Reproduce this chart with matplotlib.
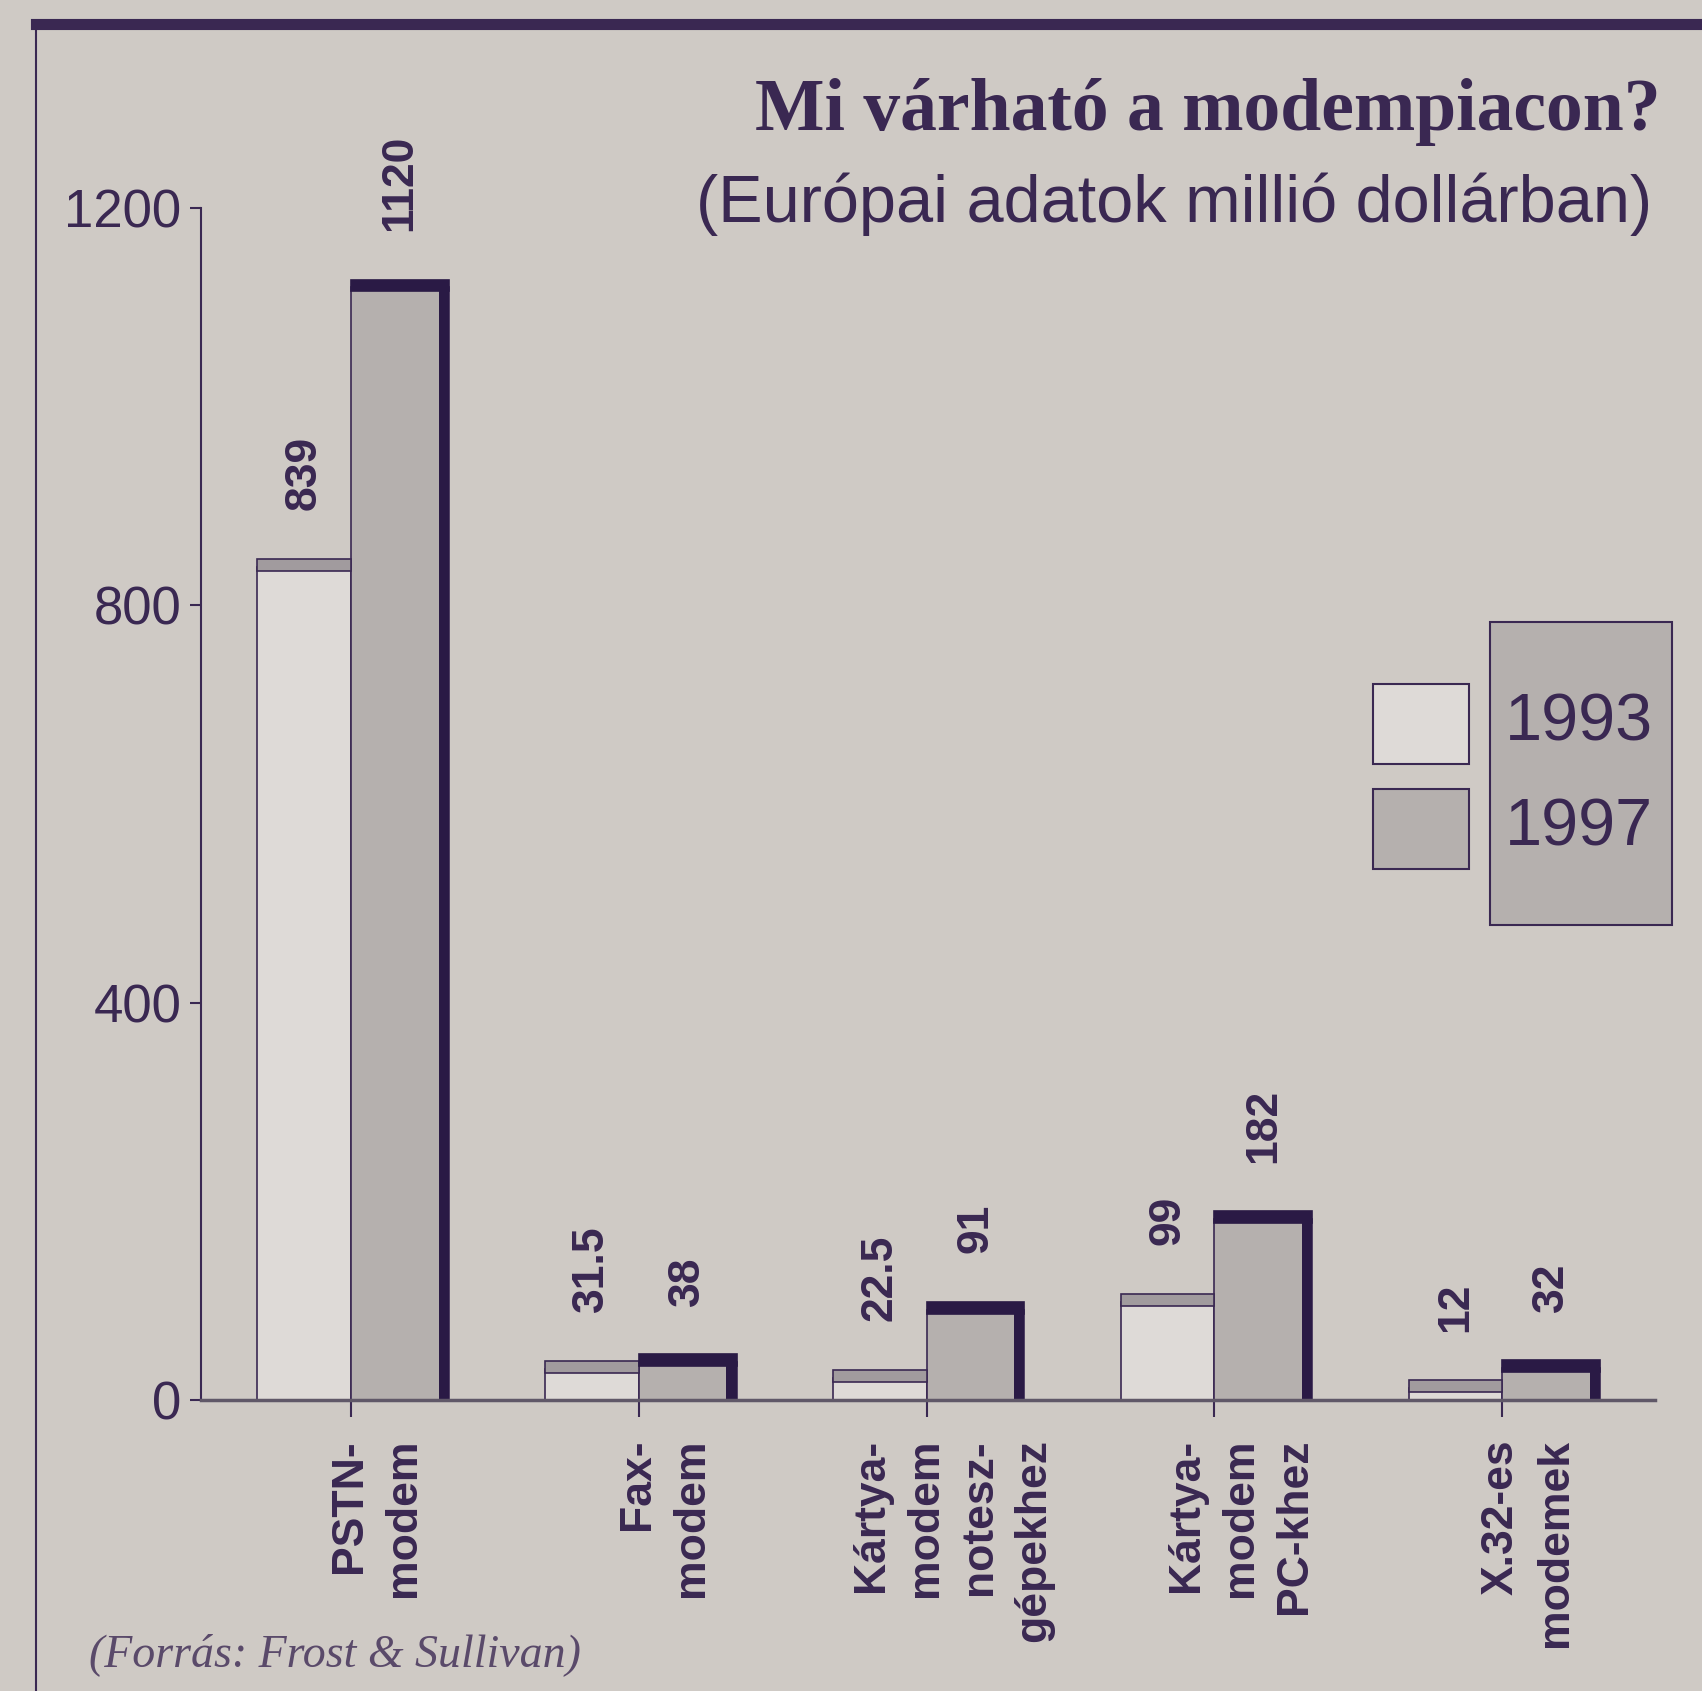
import matplotlib.pyplot as plt
import matplotlib.transforms as mtransforms
from matplotlib.patches import Rectangle
import numpy as np

# -----------------------------------
# DATA
# -----------------------------------
categories = [
    "PSTN-\nmodem",
    "Fax-\nmodem",
    "Kártya-\nmodem\nnotesz-\ngépekhez",
    "Kártya-\nmodem\nPC-khez",
    "X.32-es\nmodemek",
]
years = ["1993", "1997"]
values_1993 = [839, 31.5, 22.5, 99, 12]
values_1997 = [1120, 38, 91, 182, 32]
yticks = [0, 400, 800, 1200]

title = "Mi várható a modempiacon?"
subtitle = "(Európai adatok millió dollárban)"
source = "(Forrás: Frost & Sullivan)"

# -----------------------------------
# STYLE
# -----------------------------------
BG = "#cfcac5"
INK = "#3a2852"
LIGHT = "#dedad7"
GRAY = "#b5b0ae"
SLAB_LIGHT = "#a19b9e"
DARK = "#2a1a45"
SANS = ["Liberation Sans", "DejaVu Sans"]
SERIF = ["Liberation Serif", "DejaVu Serif"]

W, H = 1702, 1691
fig = plt.figure(figsize=(W / 100, H / 100), dpi=100)
fig.patch.set_facecolor(BG)


def fx(x):
    return x / W


def fy(y):
    return 1 - y / H


ax = fig.add_axes([fx(201), fy(1400), 1454 / W, 1192 / H])
ax.set_facecolor("none")

pos = np.arange(len(categories))
bw = 0.325
bw2 = 0.34
slab = 12
sink = 4  # slab sits partly over the front face

# 1993 bars (light, with grey top slab)
ax.bar(pos - bw, values_1993, bw, align="edge", color=LIGHT,
       edgecolor=INK, linewidth=1.2, zorder=2)
ax.bar(pos - bw, [slab] * len(pos), bw, bottom=[v - sink for v in values_1993],
       align="edge", color=SLAB_LIGHT, edgecolor=INK, linewidth=1.2, zorder=3)

# 1997 bars (grey, dark top and right side)
ax.bar(pos, values_1997, bw2, align="edge", color=GRAY,
       edgecolor=INK, linewidth=1.2, zorder=2)
ax.bar(pos, [slab] * len(pos), bw2, bottom=[v - sink for v in values_1997],
       align="edge", color=DARK, edgecolor=DARK, linewidth=1.2, zorder=3)
ax.bar(pos + bw2 - 0.035, [v - sink + slab for v in values_1997], 0.035,
       align="edge", color=DARK, linewidth=0, zorder=3)

# value labels
for x, v in zip(pos - bw / 2, values_1993):
    ax.annotate(f"{v:g}", (x, v + slab), xytext=(0, 32), textcoords="offset points",
                rotation=90, ha="center", va="bottom", fontsize=32,
                fontweight="bold", family=SANS, color=INK)
for x, v in zip(pos + bw2 / 2, values_1997):
    ax.annotate(f"{v:g}", (x, v + slab), xytext=(0, 32), textcoords="offset points",
                rotation=90, ha="center", va="bottom", fontsize=32,
                fontweight="bold", family=SANS, color=INK)

# axes
ax.set_xlim(-0.52, 4.53)
ax.set_ylim(0, 1200)
for side in ["top", "right"]:
    ax.spines[side].set_visible(False)
ax.spines["left"].set_color(INK)
ax.spines["left"].set_linewidth(1.5)
ax.spines["bottom"].set_color("#605868")
ax.spines["bottom"].set_linewidth(2.5)
ax.spines["bottom"].set_zorder(4)

ax.set_yticks(yticks)
ax.set_yticklabels([str(t) for t in yticks], fontsize=38, family=SANS, color=INK)
ax.tick_params(axis="y", length=8, width=1.5, color=INK, pad=6)

ax.set_xticks(pos)
ax.set_xticklabels(categories, rotation=90, ha="center", va="top",
                   multialignment="right", fontsize=32, fontweight="bold",
                   family=SANS, color=INK, linespacing=1.4)
ax.tick_params(axis="x", length=12, width=1.5, color=INK, pad=16)
shift = mtransforms.ScaledTranslation(26 / 100, 0, fig.dpi_scale_trans)
for lbl in ax.get_xticklabels():
    lbl.set_transform(lbl.get_transform() + shift)

# titles and source
fig.text(fx(1661), fy(130), title, ha="right", va="baseline", fontsize=53,
         fontweight="bold", family=SERIF, color=INK)
fig.text(fx(1652), fy(222), subtitle, ha="right", va="baseline", fontsize=48,
         family=SANS, color=INK)
fig.text(fx(89), fy(1666), source, ha="left", va="baseline", fontsize=33,
         style="italic", family=SERIF, color="#5a4a6a")

# legend
legend_fills = [LIGHT, GRAY]
for i, (yr, col) in enumerate(zip(years, legend_fills)):
    top = 684 + i * 105
    fig.add_artist(Rectangle((fx(1373), fy(top + 80)), 96 / W, 80 / H,
                             transform=fig.transFigure, facecolor=col,
                             edgecolor=INK, linewidth=1.5))
    fig.text(fx(1579), fy(top + 40), yr, ha="center", va="center",
             fontsize=48, family=SANS, color=INK, zorder=5)
fig.add_artist(Rectangle((fx(1490), fy(925)), 182 / W, 303 / H,
                         transform=fig.transFigure, facecolor=GRAY,
                         edgecolor=INK, linewidth=1.5, zorder=1))

# frame
fig.add_artist(plt.Line2D([fx(36), 1], [fy(24), fy(24)], color=INK,
                          linewidth=8, transform=fig.transFigure))
fig.add_artist(plt.Line2D([fx(36), fx(36)], [fy(24), 0], color=INK,
                          linewidth=1.5, transform=fig.transFigure))

fig.savefig("out.png", dpi=100, facecolor=BG)
